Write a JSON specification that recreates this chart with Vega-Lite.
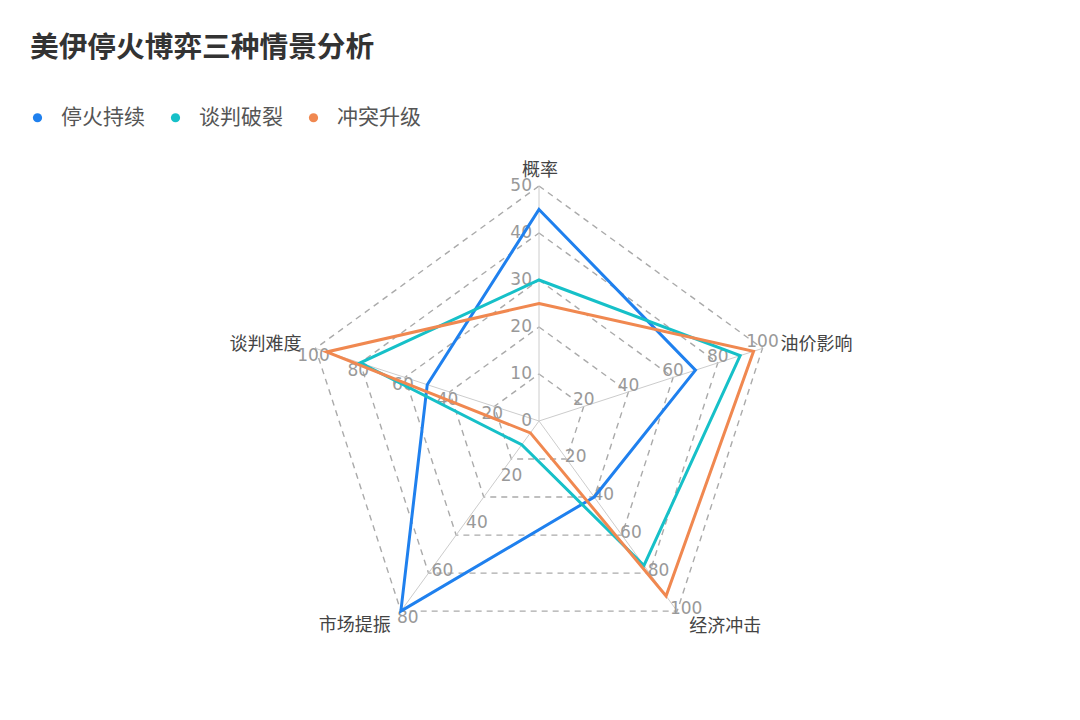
{
  "$schema": "https://vega.github.io/schema/vega-lite/v6.json",
  "width": 1080,
  "height": 580,
  "autosize": {"type": "none"},
  "padding": {"left": 0, "right": 0, "top": 140, "bottom": 0},
  "background": "white",
  "config": {
    "view": {"stroke": null},
    "font": "DejaVu Sans, Noto Sans CJK SC, sans-serif"
  },
  "title": {
    "text": "美伊停火博弈三种情景分析",
    "anchor": "start",
    "frame": "group",
    "fontSize": 28.7,
    "fontWeight": "bold",
    "color": "#333333",
    "font": "DejaVu Sans, Noto Sans CJK SC, sans-serif",
    "offset": 44,
    "dx": 30
  },
  "datasets": {
    "scores": [
      {"scenario": "停火持续", "dim": "概率", "value": 45},
      {"scenario": "停火持续", "dim": "油价影响", "value": 70},
      {"scenario": "停火持续", "dim": "经济冲击", "value": 40},
      {"scenario": "停火持续", "dim": "市场提振", "value": 80},
      {"scenario": "停火持续", "dim": "谈判难度", "value": 50},
      {"scenario": "谈判破裂", "dim": "概率", "value": 30},
      {"scenario": "谈判破裂", "dim": "油价影响", "value": 90},
      {"scenario": "谈判破裂", "dim": "经济冲击", "value": 76},
      {"scenario": "谈判破裂", "dim": "市场提振", "value": 10},
      {"scenario": "谈判破裂", "dim": "谈判难度", "value": 80},
      {"scenario": "冲突升级", "dim": "概率", "value": 25},
      {"scenario": "冲突升级", "dim": "油价影响", "value": 96},
      {"scenario": "冲突升级", "dim": "经济冲击", "value": 92},
      {"scenario": "冲突升级", "dim": "市场提振", "value": 5},
      {"scenario": "冲突升级", "dim": "谈判难度", "value": 95}
    ],
    "dims": [
      {"dim": "概率", "idx": 0, "max": 50},
      {"dim": "油价影响", "idx": 1, "max": 100},
      {"dim": "经济冲击", "idx": 2, "max": 100},
      {"dim": "市场提振", "idx": 3, "max": 80},
      {"dim": "谈判难度", "idx": 4, "max": 100}
    ],
    "grid": [
      {"level": 0.2, "dim": ["概率", "油价影响", "经济冲击", "市场提振", "谈判难度"]},
      {"level": 0.4, "dim": ["概率", "油价影响", "经济冲击", "市场提振", "谈判难度"]},
      {"level": 0.6, "dim": ["概率", "油价影响", "经济冲击", "市场提振", "谈判难度"]},
      {"level": 0.8, "dim": ["概率", "油价影响", "经济冲击", "市场提振", "谈判难度"]},
      {"level": 1.0, "dim": ["概率", "油价影响", "经济冲击", "市场提振", "谈判难度"]}
    ],
    "ticks": [
      {"dim": "概率", "tick": 0},
      {"dim": "概率", "tick": 10},
      {"dim": "概率", "tick": 20},
      {"dim": "概率", "tick": 30},
      {"dim": "概率", "tick": 40},
      {"dim": "概率", "tick": 50},
      {"dim": "油价影响", "tick": 20},
      {"dim": "油价影响", "tick": 40},
      {"dim": "油价影响", "tick": 60},
      {"dim": "油价影响", "tick": 80},
      {"dim": "油价影响", "tick": 100},
      {"dim": "经济冲击", "tick": 20},
      {"dim": "经济冲击", "tick": 40},
      {"dim": "经济冲击", "tick": 60},
      {"dim": "经济冲击", "tick": 80},
      {"dim": "经济冲击", "tick": 100},
      {"dim": "市场提振", "tick": 20},
      {"dim": "市场提振", "tick": 40},
      {"dim": "市场提振", "tick": 60},
      {"dim": "市场提振", "tick": 80},
      {"dim": "谈判难度", "tick": 20},
      {"dim": "谈判难度", "tick": 40},
      {"dim": "谈判难度", "tick": 60},
      {"dim": "谈判难度", "tick": 80},
      {"dim": "谈判难度", "tick": 100}
    ]
  },
  "encoding": {
    "x": {"field": "px", "type": "quantitative", "scale": {"domain": [-2.2936, 2.3021], "nice": false, "zero": false}, "axis": null},
    "y": {"field": "py", "type": "quantitative", "scale": {"domain": [-1.2723, 1.1957], "nice": false, "zero": false}, "axis": null}
  },
  "layer": [
    {
      "data": {"name": "grid"},
      "transform": [
        {"flatten": ["dim"]},
        {"lookup": "dim", "from": {"data": {"name": "dims"}, "key": "dim", "fields": ["idx"]}},
        {"calculate": "datum.idx * 2 * PI / 5", "as": "ang"},
        {"calculate": "datum.level * sin(datum.ang)", "as": "px"},
        {"calculate": "datum.level * cos(datum.ang)", "as": "py"}
      ],
      "mark": {"type": "line", "interpolate": "linear-closed", "stroke": "#aaaaaa", "strokeWidth": 1.4, "strokeDash": [6, 5]},
      "encoding": {
        "detail": {"field": "level", "type": "nominal"},
        "order": {"field": "idx", "type": "quantitative"}
      }
    },
    {
      "data": {"name": "dims"},
      "transform": [
        {"calculate": "datum.idx * 2 * PI / 5", "as": "ang"},
        {"calculate": "sin(datum.ang)", "as": "px"},
        {"calculate": "cos(datum.ang)", "as": "py"}
      ],
      "mark": {"type": "rule", "stroke": "#cccccc", "strokeWidth": 1},
      "encoding": {
        "x2": {"datum": 0},
        "y2": {"datum": 0}
      }
    },
    {
      "data": {"name": "ticks"},
      "transform": [
        {"filter": "datum.dim === '概率'"},
        {"lookup": "dim", "from": {"data": {"name": "dims"}, "key": "dim", "fields": ["idx", "max"]}},
        {"calculate": "datum.idx * 2 * PI / 5", "as": "ang"},
        {"calculate": "datum.tick / datum.max * sin(datum.ang)", "as": "px"},
        {"calculate": "datum.tick / datum.max * cos(datum.ang)", "as": "py"}
      ],
      "mark": {"type": "text", "align": "right", "baseline": "middle", "dx": -7, "fontSize": 17, "fill": "#999999"},
      "encoding": {"text": {"field": "tick", "type": "quantitative"}}
    },
    {
      "data": {"name": "ticks"},
      "transform": [
        {"filter": "datum.dim === '油价影响'"},
        {"lookup": "dim", "from": {"data": {"name": "dims"}, "key": "dim", "fields": ["idx", "max"]}},
        {"calculate": "datum.idx * 2 * PI / 5", "as": "ang"},
        {"calculate": "datum.tick / datum.max * sin(datum.ang)", "as": "px"},
        {"calculate": "datum.tick / datum.max * cos(datum.ang)", "as": "py"}
      ],
      "mark": {"type": "text", "align": "center", "baseline": "middle", "dy": -6, "fontSize": 17, "fill": "#999999"},
      "encoding": {"text": {"field": "tick", "type": "quantitative"}}
    },
    {
      "data": {"name": "ticks"},
      "transform": [
        {"filter": "datum.dim === '经济冲击'"},
        {"lookup": "dim", "from": {"data": {"name": "dims"}, "key": "dim", "fields": ["idx", "max"]}},
        {"calculate": "datum.idx * 2 * PI / 5", "as": "ang"},
        {"calculate": "datum.tick / datum.max * sin(datum.ang)", "as": "px"},
        {"calculate": "datum.tick / datum.max * cos(datum.ang)", "as": "py"}
      ],
      "mark": {"type": "text", "align": "center", "baseline": "middle", "dx": 9, "dy": -2, "fontSize": 17, "fill": "#999999"},
      "encoding": {"text": {"field": "tick", "type": "quantitative"}}
    },
    {
      "data": {"name": "ticks"},
      "transform": [
        {"filter": "datum.dim === '市场提振'"},
        {"lookup": "dim", "from": {"data": {"name": "dims"}, "key": "dim", "fields": ["idx", "max"]}},
        {"calculate": "datum.idx * 2 * PI / 5", "as": "ang"},
        {"calculate": "datum.tick / datum.max * sin(datum.ang)", "as": "px"},
        {"calculate": "datum.tick / datum.max * cos(datum.ang)", "as": "py"}
      ],
      "mark": {"type": "text", "align": "center", "baseline": "middle", "dx": 7, "dy": 7, "fontSize": 17, "fill": "#999999"},
      "encoding": {"text": {"field": "tick", "type": "quantitative"}}
    },
    {
      "data": {"name": "ticks"},
      "transform": [
        {"filter": "datum.dim === '谈判难度'"},
        {"lookup": "dim", "from": {"data": {"name": "dims"}, "key": "dim", "fields": ["idx", "max"]}},
        {"calculate": "datum.idx * 2 * PI / 5", "as": "ang"},
        {"calculate": "datum.tick / datum.max * sin(datum.ang)", "as": "px"},
        {"calculate": "datum.tick / datum.max * cos(datum.ang)", "as": "py"}
      ],
      "mark": {"type": "text", "align": "center", "baseline": "middle", "dx": -2, "dy": 8, "fontSize": 17, "fill": "#999999"},
      "encoding": {"text": {"field": "tick", "type": "quantitative"}}
    },
    {
      "data": {"name": "scores"},
      "transform": [
        {"lookup": "dim", "from": {"data": {"name": "dims"}, "key": "dim", "fields": ["idx", "max"]}},
        {"calculate": "datum.idx * 2 * PI / 5", "as": "ang"},
        {"calculate": "datum.value / datum.max * sin(datum.ang)", "as": "px"},
        {"calculate": "datum.value / datum.max * cos(datum.ang)", "as": "py"}
      ],
      "mark": {"type": "line", "interpolate": "linear-closed", "strokeWidth": 3},
      "encoding": {
        "color": {
          "field": "scenario",
          "type": "nominal",
          "scale": {"domain": ["停火持续", "谈判破裂", "冲突升级"], "range": ["#1f80ee", "#16c0c8", "#f08850"]},
          "legend": {
            "orient": "none",
            "legendX": 27,
            "legendY": -33,
            "direction": "horizontal",
            "title": null,
            "symbolType": "circle",
            "symbolSize": 85,
            "symbolStrokeWidth": 0,
            "labelFontSize": 21,
            "labelColor": "#555555",
            "labelOffset": 13,
            "columnPadding": 20,
            "labelFont": "DejaVu Sans, Noto Sans CJK SC, sans-serif",
            "encode": {"symbols": {"update": {"fill": {"scale": "color", "field": "value"}, "strokeWidth": {"value": 0}}}}
          }
        },
        "order": {"field": "idx", "type": "quantitative"}
      }
    },
    {
      "data": {"name": "dims"},
      "transform": [
        {"filter": "datum.dim === '概率'"},
        {"calculate": "datum.idx * 2 * PI / 5", "as": "ang"},
        {"calculate": "sin(datum.ang)", "as": "px"},
        {"calculate": "cos(datum.ang)", "as": "py"}
      ],
      "mark": {"type": "text", "align": "center", "baseline": "middle", "dx": 1, "dy": -15, "fontSize": 18, "fill": "#444444"},
      "encoding": {"text": {"field": "dim", "type": "nominal"}}
    },
    {
      "data": {"name": "dims"},
      "transform": [
        {"filter": "datum.dim === '油价影响'"},
        {"calculate": "datum.idx * 2 * PI / 5", "as": "ang"},
        {"calculate": "sin(datum.ang)", "as": "px"},
        {"calculate": "cos(datum.ang)", "as": "py"}
      ],
      "mark": {"type": "text", "align": "left", "baseline": "middle", "dx": 18, "dy": -3, "fontSize": 18, "fill": "#444444"},
      "encoding": {"text": {"field": "dim", "type": "nominal"}}
    },
    {
      "data": {"name": "dims"},
      "transform": [
        {"filter": "datum.dim === '经济冲击'"},
        {"calculate": "datum.idx * 2 * PI / 5", "as": "ang"},
        {"calculate": "sin(datum.ang)", "as": "px"},
        {"calculate": "cos(datum.ang)", "as": "py"}
      ],
      "mark": {"type": "text", "align": "left", "baseline": "middle", "dx": 12, "dy": 16, "fontSize": 18, "fill": "#444444"},
      "encoding": {"text": {"field": "dim", "type": "nominal"}}
    },
    {
      "data": {"name": "dims"},
      "transform": [
        {"filter": "datum.dim === '市场提振'"},
        {"calculate": "datum.idx * 2 * PI / 5", "as": "ang"},
        {"calculate": "sin(datum.ang)", "as": "px"},
        {"calculate": "cos(datum.ang)", "as": "py"}
      ],
      "mark": {"type": "text", "align": "right", "baseline": "middle", "dx": -10, "dy": 15, "fontSize": 18, "fill": "#444444"},
      "encoding": {"text": {"field": "dim", "type": "nominal"}}
    },
    {
      "data": {"name": "dims"},
      "transform": [
        {"filter": "datum.dim === '谈判难度'"},
        {"calculate": "datum.idx * 2 * PI / 5", "as": "ang"},
        {"calculate": "sin(datum.ang)", "as": "px"},
        {"calculate": "cos(datum.ang)", "as": "py"}
      ],
      "mark": {"type": "text", "align": "right", "baseline": "middle", "dx": -14, "dy": -3, "fontSize": 18, "fill": "#444444"},
      "encoding": {"text": {"field": "dim", "type": "nominal"}}
    }
  ]
}
